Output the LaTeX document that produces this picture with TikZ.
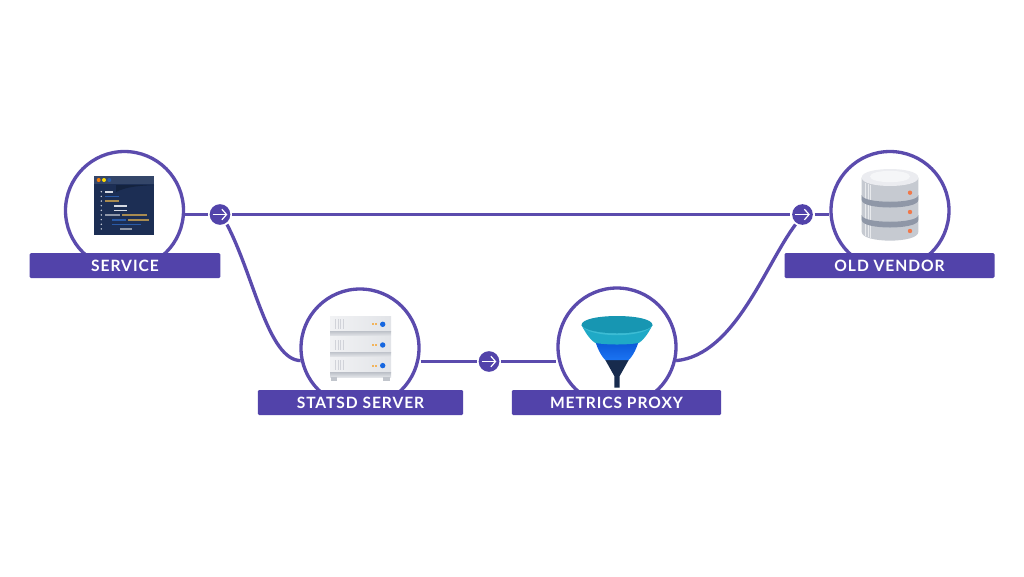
\documentclass[tikz,border=0pt]{standalone}
\usepackage{fontspec}
\setmainfont{Lato}[LetterSpace=6]
\usepackage{tikz}
\usetikzlibrary{arrows.meta}

\definecolor{flowpurple}{HTML}{5B4BAD}
\definecolor{tagpurple}{HTML}{5243AA}
\definecolor{navy}{HTML}{172B4D}
\definecolor{winbar}{HTML}{344669}
\definecolor{winbody}{HTML}{1C2E54}
\definecolor{winedge}{HTML}{14233F}
\definecolor{codewhite}{HTML}{D5D9E2}
\definecolor{codeblue}{HTML}{2A5BA8}
\definecolor{codeorange}{HTML}{A88B50}
\definecolor{codegray}{HTML}{8F97A8}
\definecolor{rackbody}{HTML}{F1F2F4}
\definecolor{rackshade}{HTML}{E2E4E8}
\definecolor{rackstrip}{HTML}{C1C5CC}
\definecolor{rackled}{HTML}{F2B45C}
\definecolor{rackblue}{HTML}{1667E0}
\definecolor{diskbody}{HTML}{C6CAD1}
\definecolor{diskband}{HTML}{8F97A7}
\definecolor{disktop}{HTML}{EBECF0}
\definecolor{disklid}{HTML}{F5F6F8}
\definecolor{diskdot}{HTML}{F0784A}
\definecolor{funnelrim}{HTML}{1796B2}
\definecolor{funneltop}{HTML}{1FA9C6}
\definecolor{funnellip}{HTML}{3CBCD4}
\definecolor{funnelblue}{HTML}{0A55D6}
\definecolor{funnelsky}{HTML}{1B74F2}

\tikzset{
    hub/.style={circle,draw=flowpurple,line width=2.5pt,fill=white,minimum size=88.5pt,inner sep=0pt},
    tag/.style={fill=tagpurple,text=white,rounded corners=1pt,minimum height=18.75pt,inner sep=0pt,font=\fontsize{11.7}{13}\selectfont\bfseries},
    flow/.style={draw=flowpurple,line width=2.5pt},
    bubble/.style={circle,fill=tagpurple,minimum size=15.5pt,inner sep=0pt,outer sep=1.4pt,
        path picture={\draw[white,line width=0.9pt,-{Straight Barb[length=3.5pt,width=8pt]}]
            ([xshift=-5.5pt]path picture bounding box.center) -- ([xshift=5.5pt]path picture bounding box.center);}},
}

\begin{document}
\begin{tikzpicture}[x=0.75pt,y=-0.75pt]
    \useasboundingbox (0,0) rectangle (1024,576);

    \node[hub] (service) at (124.5,210.5) {};
    \node[hub] (statsd) at (360,348) {};
    \node[hub] (proxy) at (617,347) {};
    \node[hub] (vendor) at (890,210.5) {};

    \node[tag,minimum width=143pt] (servicetag) at (125,265.5) {SERVICE};
    \node[tag,minimum width=154pt] (statsdtag) at (360.5,402.5) {STATSD SERVER};
    \node[tag,minimum width=157pt] (proxytag) at (616.5,402.5) {METRICS PROXY};
    \node[tag,minimum width=157.5pt] (vendortag) at (889.5,265.5) {OLD VENDOR};

    \node[bubble] (arrowA) at (220,214.5) {};
    \node[bubble] (arrowB) at (489,361.5) {};
    \node[bubble] (arrowC) at (802.5,214.5) {};

    \draw[flow] (service.east |- arrowA) -- (arrowA);
    \draw[flow] (arrowA) -- (arrowC);
    \draw[flow] (arrowC) -- (arrowC -| vendor.west);
    \draw[flow] (statsd.east |- arrowB) -- (arrowB);
    \draw[flow] (arrowB) -- (arrowB -| proxy.west);
    \draw[flow] (arrowA.-55) .. controls (254,276) and (268,360) .. (statsd.192);
    \draw[flow] (arrowC.-125) .. controls (765,265) and (735,355) .. (proxy.-13);

    \begin{scope}[shift={(94,176)}]
        \fill[winbody] (0,0) rectangle (60,59);
        \fill[winedge] (22,16) .. controls (34,10) and (46,10) .. (60,9) -- (22,9) -- cycle;
        \fill[winbar] (0,0) rectangle (60,8.3);
        \fill[orange!85!brown] (4.7,4) circle (2);
        \fill[yellow!80!orange] (10,4) circle (2);
        \fill[codeblue] (15.3,4) circle (2);
        \foreach \row in {0,...,8}
            \fill[codewhite] (7.3,15.7+4.65*\row) circle (0.8);
        \foreach \xa/\xb/\y/\col in {11/18.7/15.7/codewhite, 11/25/20.3/codeblue, 11/25/25/codeorange,
                20/33.3/29.7/codewhite, 20/33.3/34.3/codewhite, 11/26/39/codegray,
                28/52.7/39/codeorange, 18.3/31.7/43.7/codeblue, 34/54.7/43.7/codeorange,
                18.3/46.7/48.3/codeblue, 26/38.3/53/codegray}
            \fill[\col] (\xa,\y-0.8) rectangle (\xb,\y+0.8);
    \end{scope}

    \begin{scope}[shift={(330,316)}]
        \foreach \y in {0,20.7,41.3} {
            \shade[left color=rackbody,right color=rackshade] (0,\y) rectangle (61,\y+15.5);
            \shade[top color=rackstrip,bottom color=rackshade] (0,\y+15.5) rectangle (61,\y+19.7);
            \foreach \x in {5,7.5,...,14}
                \fill[rackstrip!75!white] (\x,\y+3) rectangle (\x+1,\y+13);
            \fill[rackled] (41.5,\y+7.2) rectangle (43.7,\y+9.4);
            \fill[rackled] (45.2,\y+7.2) rectangle (47.4,\y+9.4);
            \fill[rackblue] (52.7,\y+8.3) circle (2.7);
        }
        \fill[rackstrip] (0.7,61) rectangle (7.3,65.3);
        \fill[rackstrip] (52.7,61) rectangle (60,65.3);
    \end{scope}

    \begin{scope}[shift={(617,316)}]
        \fill[navy] (-11.7,44) -- (11.7,44) -- (2.7,60) -- (2.7,71.5) -- (-2.7,71.5) -- (-2.7,60) -- cycle;
        \shade[top color=funnelblue,bottom color=funnelsky] (-21.7,25) -- (21.7,25) .. controls (19,35) and (14,42) .. (11.7,44) -- (-11.7,44) .. controls (-14,42) and (-19,35) .. (-21.7,25) -- cycle;
        \fill[funneltop] (-35.5,9) .. controls (-30,20) and (-25,25) .. (-21.7,27) .. controls (-10,29) and (10,29) .. (21.7,27) .. controls (25,25) and (30,20) .. (35.5,9) -- cycle;
        \fill[funnellip] (-35.5,9) .. controls (-30,22.5) and (30,22.5) .. (35.5,9) -- cycle;
        \fill[funnelrim] (-35.5,9) .. controls (-35.5,-3) and (35.5,-3) .. (35.5,9) .. controls (30,20) and (-30,20) .. (-35.5,9) -- cycle;
    \end{scope}

    \begin{scope}[shift={(890,169)}]
        \fill[diskbody] (-28.3,8.5) -- (-28.3,63) .. controls (-28.3,74.5) and (28.3,74.5) .. (28.3,63) -- (28.3,8.5) -- cycle;
        \fill[white!60!diskbody] (-25,14) rectangle (-23.8,67);
        \fill[white!60!diskbody] (-22.4,15) rectangle (-21.2,68);
        \fill[white!60!diskbody] (-19.8,16) rectangle (-18.6,69);
        \fill[diskband] (-28.3,26) .. controls (-28.3,35) and (28.3,35) .. (28.3,26) -- (28.3,31) .. controls (28.3,41) and (-28.3,41) .. (-28.3,31) -- cycle;
        \fill[diskband] (-28.3,46) .. controls (-28.3,55) and (28.3,55) .. (28.3,46) -- (28.3,51) .. controls (28.3,61) and (-28.3,61) .. (-28.3,51) -- cycle;
        \fill[disktop] (-28.3,8.5) .. controls (-28.3,-2.8) and (28.3,-2.8) .. (28.3,8.5) .. controls (28.3,19.8) and (-28.3,19.8) .. (-28.3,8.5) -- cycle;
        \fill[disklid] (-20,7.5) .. controls (-20,0) and (20,0) .. (20,7.5) .. controls (20,15) and (-20,15) .. (-20,7.5) -- cycle;
        \foreach \y in {23.7,43,62}
            \fill[diskdot] (20,\y) circle (2.2);
    \end{scope}
\end{tikzpicture}
\end{document}
